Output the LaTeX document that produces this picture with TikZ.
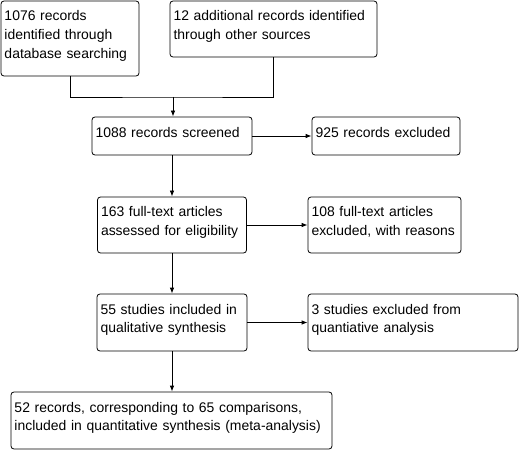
\documentclass[tikz,border=0pt]{standalone}
\usepackage{fontspec}
\setmainfont{Liberation Sans}
\usepackage{xcolor}
\usepackage{tikz}
\usetikzlibrary{calc,arrows.meta}
\definecolor{bg}{HTML}{FFFFFF}
\definecolor{ink}{HTML}{000000}
\tikzset{
  box/.style={draw=ink, line width=0.8pt, rounded corners=3pt, inner xsep=3.5bp, inner ysep=0pt,
    align=left, text=ink, font=\fontsize{14}{18.7}\selectfont,
    execute at end node={\rule[-8bp]{0pt}{8bp}}},
  link/.style={draw=ink, line width=0.8pt},
  arr/.style={link, -{Latex[length=6bp,width=4.5bp]}},
}

\begin{document}
\begin{tikzpicture}[x=1bp, y=1bp]
  \fill[bg] (0,0) rectangle (519,-450);
  \useasboundingbox (0,0) rectangle (519,-450);
  % identification
  \node[box, text width=131bp, minimum height=75bp] (DB) at (70,-38.5)
    {1076 records\\identified through\\database searching};
  \node[box, text width=200bp, minimum height=56bp] (OS) at (273.5,-29)
    {12 additional records identified\\through other sources};
  % screening
  \node[box, text width=153bp, minimum height=38bp] (SC) at (172,-136)
    {1088 records screened};
  \node[box, text width=141bp, minimum height=38bp] (SX) at (386,-136)
    {925 records excluded};
  % eligibility
  \node[box, text width=142bp, minimum height=56bp] (FT) at (172,-225)
    {163 full-text articles\\assessed for eligibility};
  \node[box, text width=146bp, minimum height=56bp] (FX) at (384.5,-225)
    {108 full-text articles\\excluded, with reasons};
  % included
  \node[box, text width=143bp, minimum height=57bp] (QL) at (172,-322.5)
    {55 studies included in\\qualitative synthesis};
  \node[box, text width=203bp, minimum height=57bp] (QX) at (413,-322.5)
    {3 studies excluded from\\quantiative analysis};
  \node[box, text width=314bp, minimum height=57bp] (MA) at (171.5,-420.5)
    {52 records, corresponding to 65 comparisons,\\included in quantitative synthesis (meta-analysis)};
  \coordinate (M) at (173,-97);
  \draw[link] (DB.south) |- (M) -| (OS.south);
  \draw[arr] (M) -- (M |- SC.north);
  \draw[arr] (SC.east) -- (SX.west);
  \draw[arr] (SC.south) -- (SC.south |- FT.north);
  \draw[arr] (FT.east) -- (FX.west);
  \draw[arr] (FT.south) -- (FT.south |- QL.north);
  \draw[arr] (QL.east) -- (QX.west);
  \draw[arr] (QL.south) -- (QL.south |- MA.north);
\end{tikzpicture}
\end{document}
